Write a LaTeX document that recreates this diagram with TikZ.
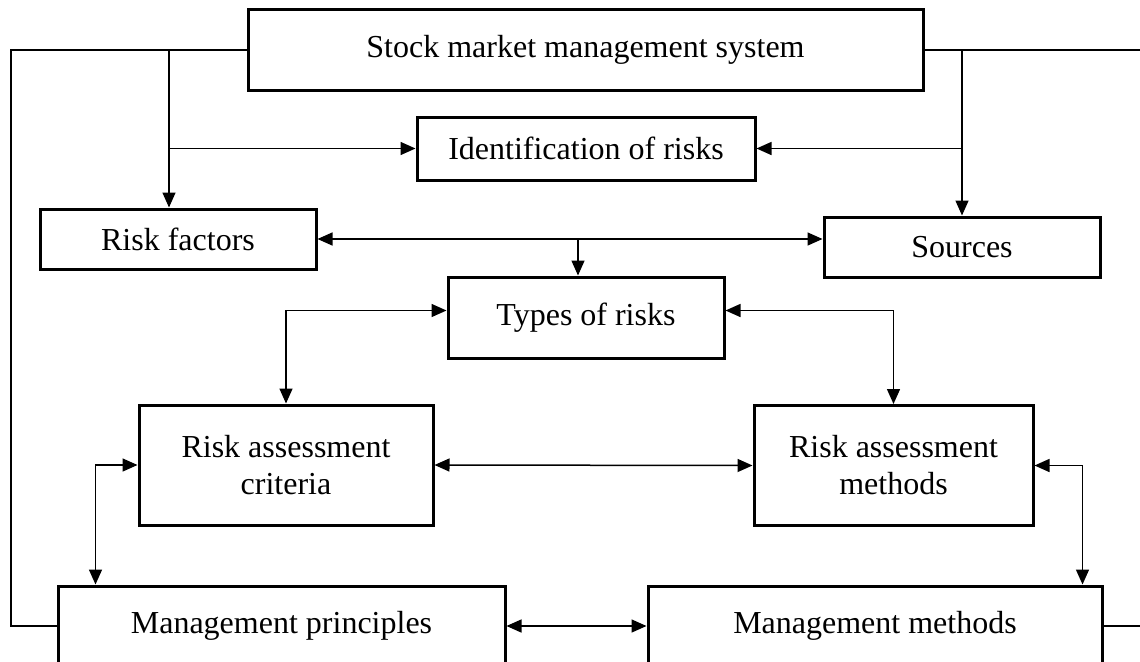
\documentclass[tikz,border=0pt]{standalone}
\usepackage{fontspec}
\setmainfont{Liberation Serif}
\usetikzlibrary{arrows.meta}

\tikzset{
	block/.style={draw, line width=3pt, rectangle, inner sep=0pt, align=center},
	link/.style={line width=1.5pt}
}

\begin{document}
\begin{tikzpicture}[x=1pt, y=-1pt, font=\fontsize{32}{37}\selectfont,
		>={Triangle[length=15pt,width=13pt]}]
		\useasboundingbox (0,0) rectangle (1140,661);
		\clip (0,0) rectangle (1140,661);

		% boxes
		\node[block, minimum width=675, minimum height=80] (sys) at (585.5,50) {Stock market management system};
		\node[block, minimum width=338, minimum height=63] (ident) at (586,148.5) {Identification of risks};
		\node[block, minimum width=276, minimum height=60] (factors) at (178,239) {Risk factors};
		\node[block, minimum width=276, minimum height=60] (sources) at (962,247) {Sources};
		\node[block, minimum width=276, minimum height=81] (types) at (586,317.5) {Types of risks};
		\node[block, minimum width=294, minimum height=120] (criteria) at (286,465) {Risk assessment\\criteria};
		\node[block, minimum width=279, minimum height=120] (methods) at (893.5,465.5) {Risk assessment\\methods};
		\node[block, minimum width=447, minimum height=80] (principles) at (281.5,626) {Management principles};
		\node[block, minimum width=454, minimum height=80] (mgmt) at (875,626) {Management methods};

		\coordinate (lbranch) at (169,50);
		\coordinate (redge) at (1142,50);

		% top level links
		\draw[link] (sys.west) -- (11,50) |- (principles.west);
		\draw[link,->] (lbranch) -- (lbranch |- factors.north);
		\draw[link,->] (lbranch |- ident.west) -- (ident.west);
		\draw[link] (sys.east) -- (redge);
		\draw[link,->] (sources.north |- sys.east) -- (sources.north);
		\draw[link,->] (sources.north |- ident.east) -- (ident.east);

		% middle
		\draw[link,<->] (factors.east) -- (sources.west |- factors.east);
		\draw[link,->] ([xshift=-8pt]types.north |- factors.east) -- ([xshift=-8pt]types.north);
		\draw[link,<->] (criteria.north) |- ([yshift=7pt]types.west);
		\draw[link,<->] (methods.north) |- ([yshift=7pt]types.east);
		\draw[link,<->] (criteria.east) -- (methods.west);

		% bottom
		\draw[link,<->] (criteria.west) -| ([xshift=39pt]principles.north west);
		\draw[link,<->] (methods.east) -| ([xshift=-21pt]mgmt.north east);
		\draw[link,<->] (principles.east) -- (mgmt.west);
		\draw[link] (mgmt.east) -- (1142,626);
	\end{tikzpicture}
\end{document}
